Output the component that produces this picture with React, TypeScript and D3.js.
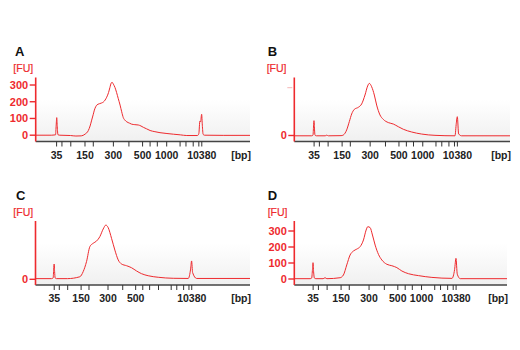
import * as d3 from 'd3';

// ladder (bp) and its migration time in seconds
const ladderBp = [35, 50, 100, 150, 200, 300, 400, 500, 600, 700, 1000, 2000, 3000, 5000, 7000, 10380];
const ladderSec = [47.8, 49.8, 53.1, 58.4, 61.5, 69.0, 74.8, 79.9, 82.7, 85.4, 88.9, 93.9, 96.1, 98.8, 100.9, 102.0];

const panelNames = ['A', 'B', 'C', 'D'];
const labelBp = [
  [35, 150, 300, 500, 1000, 10380],
  [35, 150, 300, 500, 1000, 10380],
  [35, 150, 300, 500, 10380],
  [35, 150, 300, 500, 1000, 10380],
];
const secDomains = [[40, 120], [40.31, 121.9], [40.42, 124.96], [40.66, 121.3]];
const fuDomains = [[-37.7, 344.9], [-37.7, 364], [-33.5, 343], [-37.5, 362.5]];
const fuTicks = [[0, 100, 200, 300], [0], [0], [0, 100, 200, 300]];
const fuFaintTicks = [[], [300], [], []];

// electropherogram traces: time (s) and fluorescence (FU)
const secA = [40, 46, 47.4, 47.65, 47.85, 48.05, 48.3, 49, 53, 55, 57, 58.4, 59.65, 60.3, 60.9, 61.5, 61.9, 62.4, 62.8, 63.75, 64.5, 65.25, 65.9, 66.5, 67.2, 67.7, 68.2, 68.5, 69.0, 69.6, 70.2, 70.8, 71.5, 72.1, 72.7, 73.3, 74.0, 75.0, 75.8, 77.0, 78.3, 79.3, 80.2, 81.4, 82.7, 84.5, 86.4, 89.0, 91.4, 94.0, 96.4, 100.4, 100.9, 101.3, 101.55, 101.95, 102.2, 102.5, 103, 110, 120];
const fuA = [0, 0, 2, 60, 105, 50, 3, 0, -2, -5, -4, 6, 28, 55, 90, 125, 150, 170, 180, 188, 192, 198, 210, 227, 255, 285, 312, 316, 305, 285, 255, 220, 180, 140, 105, 90, 80, 72, 66, 63, 61, 55, 47, 38, 28, 21, 15, 10, 6, 2, -2, -2, 10, 85, 80, 125, 60, 5, 0, -1, -1];

const secB = [40.31, 46.88, 47.38, 47.6, 47.76, 47.95, 48.14, 48.64, 52.0, 52.55, 53.2, 58.0, 58.85, 60.12, 61.12, 62.01, 63.01, 64.53, 65.79, 67.05, 68.06, 68.69, 69.57, 70.58, 71.46, 72.72, 73.98, 75.87, 77.76, 79.66, 81.55, 84.7, 88.48, 93.52, 101.09, 101.59, 101.97, 102.47, 103.6, 121.9];
const fuB = [-2, -2, 2, 60, 93, 40, 2, -2, -2, 2, -2, -1, 3, 35, 87, 135, 164, 177, 198, 254, 311, 327, 306, 254, 191, 129, 101, 81, 72, 55, 39, 22, 9, 1, -2, 77, 118, 10, -2, -2];

const secC = [40.42, 46.72, 47.38, 47.6, 47.77, 47.95, 48.16, 48.69, 53.0, 57.9, 59.21, 60.53, 61.84, 63.15, 64.47, 65.78, 67.1, 68.15, 69.07, 70.39, 71.7, 73.02, 74.33, 76.3, 78.28, 80.25, 82.22, 84.85, 88.79, 94.71, 100.63, 101.55, 101.94, 102.34, 103.92, 124.96];
const fuC = [4, 4, 8, 60, 90, 45, 8, 4, 4, 15, 45, 104, 192, 212, 225, 251, 296, 319, 304, 241, 172, 114, 90, 80, 68, 49, 33, 21, 12, 6, 5, 60, 108, 40, 5, 5];

const secD = [40.67, 46.62, 47.26, 47.55, 47.76, 47.98, 48.27, 48.9, 51.6, 52.32, 53.0, 58.02, 59.28, 60.55, 61.81, 63.08, 64.35, 65.61, 66.88, 67.89, 68.52, 69.41, 70.29, 71.31, 72.57, 73.84, 75.74, 77.64, 79.54, 81.44, 83.97, 87.77, 92.83, 100.43, 101.44, 101.95, 102.45, 103.59, 121.3];
const fuD = [2, 2, 6, 60, 102, 45, 6, 2, 2, 8, 2, 8, 25, 88, 150, 175, 187, 202, 244, 306, 327, 321, 275, 212, 154, 119, 92, 83, 71, 50, 33, 21, 10, 4, 60, 129, 30, 2, 2];

const secs = [secA, secB, secC, secD];
const fus = [fuA, fuB, fuC, fuD];

const layout = [
  { left: 35.7, top: 77.5, right: 250, letterX: 15, letterY: 56, fuX: 13.3, fuY: 72 },
  { left: 294.3, top: 77.5, right: 510, letterX: 267.7, letterY: 56, fuX: 266.7, fuY: 72 },
  { left: 35.5, top: 221, right: 250, letterX: 16, letterY: 200, fuX: 13.3, fuY: 215.5 },
  { left: 294.3, top: 221, right: 507, letterX: 267.7, letterY: 200, fuX: 267.7, fuY: 215.5 },
];
const plotH = 64;
const red = '#ee2a2e';
const font = 'Liberation Sans, Arial, sans-serif';

function Panel({ i }: { i: number }) {
  const L = layout[i];
  const bottom = L.top + plotH;
  const x = d3.scaleLinear().domain(secDomains[i]).range([L.left, L.right]);
  const y = d3.scaleLinear().domain(fuDomains[i]).range([bottom, L.top]);
  const bpToSec = d3.scaleLinear().domain(ladderBp).range(ladderSec);
  const pts = d3.zip(secs[i], fus[i]) as [number, number][];
  const line = d3.line<[number, number]>()
    .x(d => x(d[0]))
    .y(d => y(d[1]))
    .curve(d3.curveMonotoneX);

  return (
    <g>
      <rect x={L.left} y={L.top} width={L.right - L.left} height={plotH} fill={`url(#fade)`} />
      <text x={L.letterX} y={L.letterY} fontFamily={font} fontSize={13} fontWeight="bold" fill="#111">
        {panelNames[i]}
      </text>
      <text x={L.fuX} y={L.fuY} fontFamily={font} fontSize={10.5} fill={red} stroke={red} strokeWidth={0.2}>[FU]</text>

      <path d={line(pts) || ''} fill="none" stroke={red} strokeWidth={1} />

      {/* x axis */}
      <line x1={L.left} x2={L.right} y1={bottom} y2={bottom} stroke="#444" strokeWidth={1.4} />
      {ladderBp.map(bp => (
        <line key={bp} x1={x(bpToSec(bp))} x2={x(bpToSec(bp))} y1={bottom} y2={bottom + 5}
          stroke="#333" strokeWidth={1} />
      ))}
      {labelBp[i].map(bp => (
        <text key={bp} x={x(bpToSec(bp))} y={bottom + 17} textAnchor="middle"
          fontFamily={font} fontSize={10.5} fontWeight="bold" fill="#222">{bp}</text>
      ))}
      <text x={L.right + 1} y={bottom + 17} textAnchor="end" fontFamily={font} fontSize={10.5}
        fontWeight="bold" fill="#222">[bp]</text>

      {/* y axis */}
      <line x1={L.left} x2={L.left} y1={L.top} y2={bottom} stroke={red} strokeWidth={1.6} />
      {fuFaintTicks[i].map(v => (
        <line key={v} x1={L.left - 7} x2={L.left - 2} y1={y(v)} y2={y(v)} stroke="#f5b5b5" strokeWidth={1} />
      ))}
      {fuTicks[i].map(v => (
        <g key={v}>
          <line x1={L.left - 6} x2={L.left} y1={y(v)} y2={y(v)} stroke={red} strokeWidth={1.4} />
          <text x={L.left - 7.5} y={y(v)} dy="0.36em" textAnchor="end" fontFamily={font}
            fontSize={11} fontWeight="bold" fill={red}>{v}</text>
        </g>
      ))}
    </g>
  );
}

export default function App() {
  return (
    <svg width={520} height={350} style={{ position: 'absolute', left: 0, top: 0, background: '#fff' }}>
      <defs>
        <linearGradient id="fade" x1="0" y1="0" x2="0" y2="1">
          <stop offset="0" stopColor="#ffffff" />
          <stop offset="0.35" stopColor="#ffffff" />
          <stop offset="1" stopColor="#f0f0f0" />
        </linearGradient>
      </defs>
      {panelNames.map((_, i) => <Panel key={i} i={i} />)}
    </svg>
  );
}
